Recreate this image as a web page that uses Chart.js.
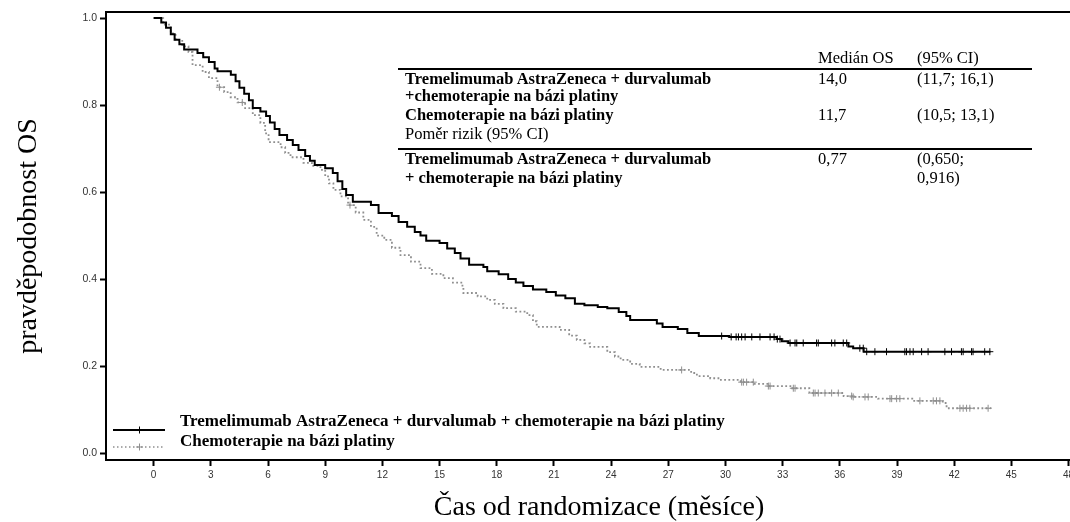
<!DOCTYPE html>
<html>
<head>
<meta charset="utf-8">
<script src="https://cdn.jsdelivr.net/npm/chart.js@4/dist/chart.umd.min.js"></script>
<style>
html, body { margin: 0; padding: 0; background: #fff; }
#wrap { position: relative; width: 1070px; height: 522px; overflow: hidden; }
#chart { position: absolute; left: 0; top: 0; }
.t { position: absolute; white-space: nowrap; font-family: "Liberation Serif", "Times New Roman", serif; font-size: 16.5px; line-height: 18px; color: #000; }
.b { font-weight: bold; }
.rule { position: absolute; left: 398px; width: 634px; height: 2px; background: #000; }
</style>
</head>
<body>
<div id="wrap">
  <canvas id="chart" width="1100" height="522"></canvas>
</div>
<script>
// Kaplan-Meier steps: time (months) and survival right after the step
const combTimes = [0, 0.4, 0.65, 0.9, 1.1, 1.35, 1.6, 2.3, 2.6, 2.9,
  3.2, 3.35, 4.05, 4.3, 4.5, 4.75, 5.0, 5.2, 5.6, 5.9,
  6.1, 6.35, 6.6, 7.0, 7.3, 7.6, 7.95, 8.2, 8.45, 9.0,
  9.4, 9.65, 9.9, 10.1, 10.45, 11.4, 11.8, 12.5, 12.85, 13.3,
  13.7, 14.0, 14.3, 15.0, 15.4, 15.8, 16.1, 16.55, 17.3, 17.5,
  18.1, 18.6, 19.0, 19.4, 19.9, 20.6, 21.1, 21.6, 22.1, 22.6,
  23.3, 23.8, 24.4, 24.8, 25.0, 26.4, 26.7, 27.5, 28.0, 28.6,
  30.2, 32.7, 32.95, 33.3, 36.45, 36.7, 37.25, 43.9]
const combSurv = [1.0, 0.99, 0.978, 0.963, 0.95, 0.94, 0.928, 0.92, 0.91, 0.899,
  0.884, 0.878, 0.87, 0.855, 0.84, 0.826, 0.811, 0.793, 0.785, 0.775,
  0.76, 0.745, 0.731, 0.72, 0.708, 0.697, 0.683, 0.672, 0.662, 0.655,
  0.644, 0.625, 0.607, 0.593, 0.578, 0.57, 0.552, 0.545, 0.531, 0.52,
  0.508, 0.5, 0.488, 0.483, 0.47, 0.46, 0.447, 0.433, 0.428, 0.418,
  0.411, 0.4, 0.392, 0.384, 0.376, 0.37, 0.362, 0.356, 0.343, 0.34,
  0.336, 0.333, 0.324, 0.315, 0.306, 0.298, 0.29, 0.285, 0.276, 0.269,
  0.267, 0.262, 0.257, 0.253, 0.245, 0.241, 0.233, 0.233]

const chemoTimes = [0, 0.5, 0.9, 1.15, 1.5, 1.83, 2.04, 2.57, 2.9, 3.35,
  3.7, 4.04, 4.4, 4.8, 5.2, 5.6, 5.85, 6.03, 6.66, 6.9,
  7.18, 7.86, 8.3, 8.75, 9.0, 9.2, 9.43, 9.8, 10.2, 10.6,
  11.0, 11.4, 11.7, 12.1, 12.5, 12.95, 13.5, 14.0, 14.6, 15.2,
  15.7, 16.2, 16.25, 17.0, 17.5, 17.9, 18.35, 19.0, 19.6, 19.9,
  20.1, 21.3, 21.8, 22.2, 22.6, 22.9, 23.8, 24.2, 24.5, 25.0,
  25.5, 26.6, 28.2, 28.5, 29.2, 29.7, 30.8, 31.5, 32.2, 33.5,
  34.4, 36.2, 36.7, 38.0, 39.8, 41.4, 41.6, 43.9]
const chemoSurv = [1.0, 0.985, 0.965, 0.95, 0.935, 0.922, 0.892, 0.876, 0.862, 0.841,
  0.83, 0.818, 0.806, 0.793, 0.777, 0.759, 0.735, 0.715, 0.703, 0.69,
  0.68, 0.667, 0.66, 0.651, 0.636, 0.62, 0.605, 0.59, 0.57, 0.553,
  0.536, 0.52, 0.5, 0.49, 0.472, 0.455, 0.44, 0.425, 0.412, 0.402,
  0.392, 0.382, 0.368, 0.36, 0.352, 0.343, 0.333, 0.325, 0.317, 0.303,
  0.29, 0.283, 0.27, 0.26, 0.252, 0.244, 0.232, 0.222, 0.214, 0.205,
  0.198, 0.191, 0.184, 0.177, 0.172, 0.168, 0.163, 0.159, 0.154, 0.149,
  0.138, 0.131, 0.129, 0.125, 0.12, 0.115, 0.103, 0.101]

// censored patients (months)
const combCensor = [29.8, 30.3, 30.56, 30.68, 30.85, 31.03, 31.38, 31.81, 32.34, 32.55,
  32.72, 32.86, 33.39, 33.65, 33.74, 34.08, 34.78, 34.87, 35.57, 35.74,
  36.18, 36.36, 37.05, 37.23, 37.41, 37.84, 38.45, 39.41, 39.5, 39.68,
  39.85, 40.29, 40.63, 41.51, 41.86, 42.38, 42.47, 42.91, 42.99, 43.6, 43.87]
const chemoCensor = [3.45, 4.65, 10.3, 27.7, 30.85, 30.94, 31.11, 31.46, 32.25, 32.34,
  33.56, 33.65, 34.61, 34.7, 34.87, 35.22, 35.57, 35.92, 36.62, 36.7,
  37.32, 37.49, 38.63, 38.72, 38.98, 39.15, 40.2, 40.9, 41.07, 41.25,
  42.3, 42.47, 42.65, 42.82, 43.78]

const seriesNames = ['Tremelimumab AstraZeneca + durvalumab + chemoterapie na bázi platiny',
                     'Chemoterapie na bázi platiny']
const xTicks = [0, 3, 6, 9, 12, 15, 18, 21, 24, 27, 30, 33, 36, 39, 42, 45, 48]
const yTicks = [0, 0.2, 0.4, 0.6, 0.8, 1.0]

// table in the upper right
const tableHead = ['Medián OS', '(95% CI)']
const armLabels = [['Tremelimumab AstraZeneca + durvalumab', '+chemoterapie na bázi platiny'],
                   ['Chemoterapie na bázi platiny']]
const medianOS = ['14,0', '11,7']
const medianCI = ['(11,7; 16,1)', '(10,5; 13,1)']
const hrLabel = 'Poměr rizik (95% CI)'
const hrArm = ['Tremelimumab AstraZeneca + durvalumab', '+ chemoterapie na bázi platiny']
const hrValue = '0,77'
const hrCI = ['(0,650;', '0,916)']

const solidColor = '#000'
const dotColor = '#8f8f8f'

function survAt(times, surv, t) {
    let s = surv[0]
    for (let i = 0; i < times.length; i++) {
        if (times[i] <= t) s = surv[i]
    }
    return s
}

function put(text, left, mid, bold) {
    let el = document.createElement('div')
    el.className = bold ? 't b' : 't'
    el.style.left = left + 'px'
    el.style.top = (mid - 9) + 'px'
    el.textContent = text
    document.querySelector('#wrap').appendChild(el)
}
function rule(top) {
    let el = document.createElement('div')
    el.className = 'rule'
    el.style.top = top + 'px'
    document.querySelector('#wrap').appendChild(el)
}

const colLabel = 405, colMed = 818, colCI = 917
put(tableHead[0], colMed, 57.5)
put(tableHead[1], colCI, 57.5)
rule(68)
put(armLabels[0][0], colLabel, 78.5, true)
put(armLabels[0][1], colLabel, 96, true)
put(medianOS[0], colMed, 78.5)
put(medianCI[0], colCI, 78.5)
put(armLabels[1][0], colLabel, 114.5, true)
put(medianOS[1], colMed, 114.5)
put(medianCI[1], colCI, 114.5)
put(hrLabel, colLabel, 133.5)
rule(147.5)
put(hrArm[0], colLabel, 159, true)
put(hrArm[1], colLabel, 177.5, true)
put(hrValue, colMed, 159)
put(hrCI[0], colCI, 159)
put(hrCI[1], colCI, 177.5)

// little legend swatch: line with a censor cross in the middle
function swatch(color, width, dash, drop) {
    let c = document.createElement('canvas')
    c.width = 52
    c.height = 30
    let ctx = c.getContext('2d')
    let y = 15 + drop
    ctx.strokeStyle = color
    ctx.lineWidth = width
    ctx.setLineDash(dash)
    ctx.beginPath()
    ctx.moveTo(0, y)
    ctx.lineTo(52, y)
    ctx.stroke()
    ctx.setLineDash([])
    ctx.lineWidth = 1
    ctx.beginPath()
    ctx.moveTo(26.5, y - 3.5)
    ctx.lineTo(26.5, y + 3.5)
    ctx.moveTo(23, y)
    ctx.lineTo(30, y)
    ctx.stroke()
    return c
}

// legend sits inside the plot, bottom left
const legendSpot = {
    id: 'legendSpot',
    afterLayout(chart) {
        let lg = chart.legend
        let area = chart.chartArea
        lg.left = area.left - 2.5
        lg.top = area.top
        lg.bottom = area.bottom - 6.5
    }
}

const tickFont = { family: 'Liberation Sans', size: 10 }

new Chart(document.getElementById('chart'), {
    type: 'line',
    data: {
        datasets: [
            {
                label: seriesNames[0],
                data: combTimes.map((t, i) => ({ x: t, y: combSurv[i] })),
                borderColor: solidColor, borderWidth: 2, stepped: true,
                pointRadius: 0, fill: false,
                pointStyle: swatch(solidColor, 2, [], 8)
            },
            {
                label: seriesNames[1],
                data: chemoTimes.map((t, i) => ({ x: t, y: chemoSurv[i] })),
                borderColor: dotColor, borderWidth: 1.8, borderDash: [1.8, 2.4], stepped: true,
                pointRadius: 0, fill: false,
                pointStyle: swatch(dotColor, 1.5, [1.5, 2.5], 5)
            },
            {
                label: 'censor1',
                data: combCensor.map(t => ({ x: t, y: survAt(combTimes, combSurv, t) })),
                showLine: false, pointStyle: 'cross', pointRadius: 3.5,
                borderColor: solidColor, borderWidth: 1
            },
            {
                label: 'censor2',
                data: chemoCensor.map(t => ({ x: t, y: survAt(chemoTimes, chemoSurv, t) })),
                showLine: false, pointStyle: 'cross', pointRadius: 3.5,
                borderColor: dotColor, borderWidth: 1
            }
        ]
    },
    options: {
        responsive: false,
        animation: false,
        devicePixelRatio: 1,
        layout: { padding: { left: 0, top: 0, right: 8, bottom: 0 } },
        plugins: {
            tooltip: { enabled: false },
            legend: {
                position: 'chartArea',
                align: 'end',
                labels: {
                    usePointStyle: true,
                    pointStyleWidth: 65,
                    padding: 3,
                    color: '#000',
                    font: { family: 'Liberation Serif', size: 17, weight: 'bold', lineHeight: 1 },
                    filter: item => item.datasetIndex < 2
                }
            }
        },
        scales: {
            x: {
                type: 'linear', position: 'bottom', min: -2.5, max: 49.23,
                afterBuildTicks: s => { s.ticks = xTicks.map(v => ({ value: v })) },
                afterFit: s => { s.height = 62 },
                ticks: { font: tickFont, color: '#333', padding: 3, maxRotation: 0, autoSkip: false },
                grid: { drawOnChartArea: false, tickLength: 6, tickColor: '#000', tickWidth: 2 },
                border: { color: '#000', width: 2 },
                title: { display: true, text: 'Čas od randomizace (měsíce)', color: '#000',
                         font: { family: 'Liberation Serif', size: 28, lineHeight: 1 }, padding: { top: 0, bottom: 0 } }
            },
            xTop: {
                type: 'linear', position: 'top', min: -2.5, max: 49.23,
                afterFit: s => { s.height = 12 },
                ticks: { display: false },
                grid: { display: false },
                border: { color: '#000', width: 2 }
            },
            y: {
                min: -0.016, max: 1.014,
                afterBuildTicks: s => { s.ticks = yTicks.map(v => ({ value: v })) },
                afterFit: s => { s.width = 106 },
                ticks: { font: { family: 'Liberation Sans', size: 10.5 }, color: '#333', padding: 3, callback: v => v.toFixed(1) },
                grid: { drawOnChartArea: false, tickLength: 6, tickColor: '#000', tickWidth: 2 },
                border: { color: '#000', width: 2 },
                title: { display: true, text: 'pravděpodobnost OS', color: '#000',
                         font: { family: 'Liberation Serif', size: 28, lineHeight: 1.2 }, padding: { top: 12 } }
            }
        }
    },
    plugins: [legendSpot]
})
</script>
</body>
</html>
